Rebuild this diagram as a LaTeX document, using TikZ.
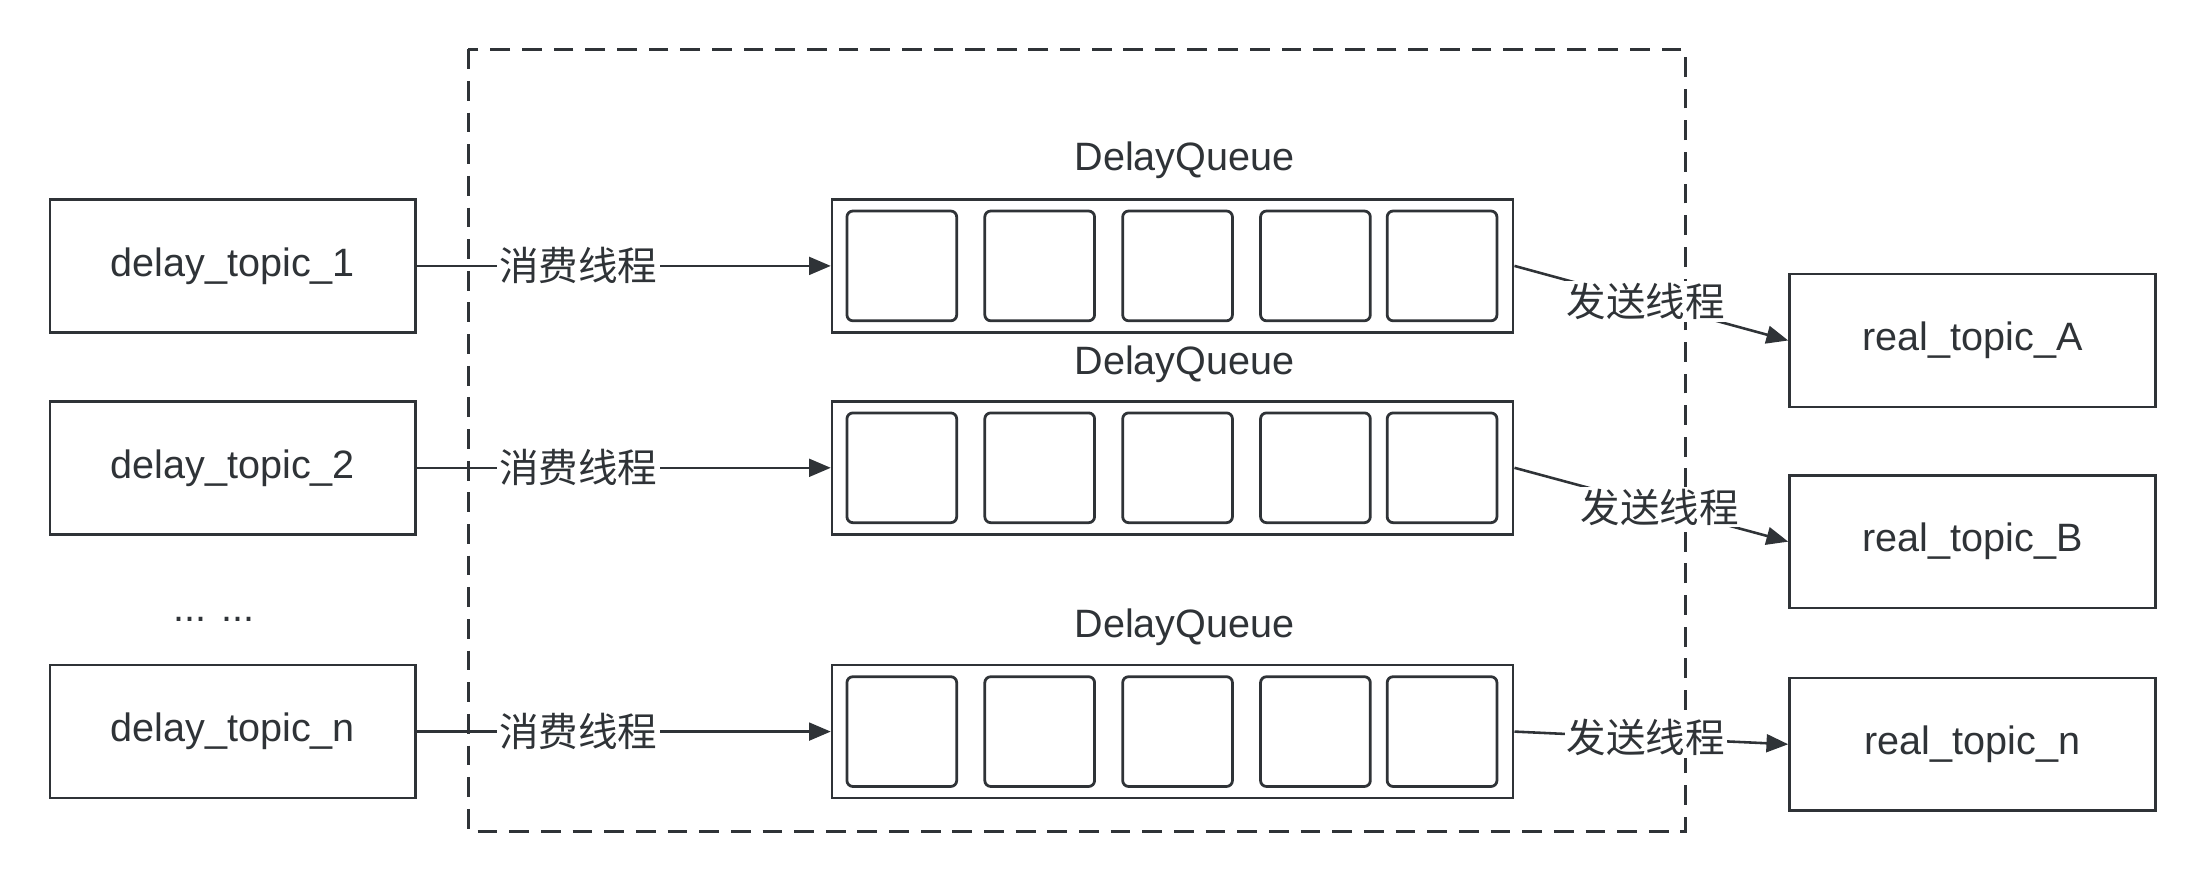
\documentclass[tikz,border=0pt]{standalone}
\usepackage{fontspec}
\setmainfont{Liberation Sans}
\newfontfamily\cjk{Noto Sans CJK SC}
\usetikzlibrary{arrows.meta}
\usetikzlibrary{positioning}
\definecolor{ink}{HTML}{2F3337}

\begin{document}
\begin{tikzpicture}[x=0.025cm, y=-0.025cm, font=\fontsize{20}{24}\selectfont, color=ink,
	every node/.style={inner sep=1pt, text=ink},
	topic/.style={draw, line width=1.3pt, minimum width=6.5cm, minimum height=2.36cm},
	queue/.style={draw, line width=1.3pt, minimum width=12.1cm, minimum height=2.36cm},
	cell/.style={draw, line width=1.4pt, rounded corners=3pt, minimum width=1.95cm, minimum height=1.95cm},
	lbl/.style={fill=white, font=\cjk\fontsize{20}{24}\selectfont},
	arr/.style={line width=1.3pt, -{Triangle[length=11pt, width=9pt]}}]
	\useasboundingbox (0,0) rectangle (1568,627);
	% outer dashed frame
	\draw[line width=1.3pt, dash pattern=on 10pt off 6pt] (333,35) rectangle (1198,591);
	% delay topics
	\node[topic] (d1) at (165.5,189) {\raisebox{-1.5pt}{delay\_topic\_1}};
	\node[topic] (d2) at (165.5,332.5) {\raisebox{-1.5pt}{delay\_topic\_2}};
	\node (dots) at (152,440) {... ...};
	\node[topic] (dn) at (165.5,520) {\raisebox{-1.5pt}{delay\_topic\_n}};
	% queues
	\node (t1) at (842,114) {DelayQueue};
	\node[queue] (q1) at (833.5,189) {};
	\node (t2) at (842,259) {DelayQueue};
	\node[queue] (q2) at (833.5,332.5) {};
	\node (t3) at (842,446) {DelayQueue};
	\node[queue] (q3) at (833.5,520) {};
	\node[cell] (c11) at (641,189) {};
	\node[cell] (c12) at (739,189) {};
	\node[cell] (c13) at (837,189) {};
	\node[cell] (c14) at (935,189) {};
	\node[cell] (c15) at (1025,189) {};
	\node[cell] (c21) at (641,332.5) {};
	\node[cell] (c22) at (739,332.5) {};
	\node[cell] (c23) at (837,332.5) {};
	\node[cell] (c24) at (935,332.5) {};
	\node[cell] (c25) at (1025,332.5) {};
	\node[cell] (c31) at (641,520) {};
	\node[cell] (c32) at (739,520) {};
	\node[cell] (c33) at (837,520) {};
	\node[cell] (c34) at (935,520) {};
	\node[cell] (c35) at (1025,520) {};
	% real topics
	\node[topic] (ra) at (1402,242) {\raisebox{-1.5pt}{real\_topic\_A}};
	\node[topic] (rb) at (1402,385) {\raisebox{-1.5pt}{real\_topic\_B}};
	\node[topic] (rn) at (1402,529) {\raisebox{-1.5pt}{real\_topic\_n}};
	% threads
	\draw[arr] (d1.east) -- node[lbl, pos=0.39] {消费线程} (q1.west);
	\draw[arr] (d2.east) -- node[lbl, pos=0.39] {消费线程} (q2.west);
	\draw[arr] (dn.east) -- node[lbl, pos=0.39] {消费线程} (q3.west);
	\draw[arr] (q1.east) -- node[lbl, pos=0.48] {发送线程} (ra.west);
	\draw[arr] (q2.east) -- node[lbl, pos=0.53] {发送线程} (rb.west);
	\draw[arr] (q3.east) -- node[lbl, pos=0.48] {发送线程} (rn.west);
\end{tikzpicture}
\end{document}
